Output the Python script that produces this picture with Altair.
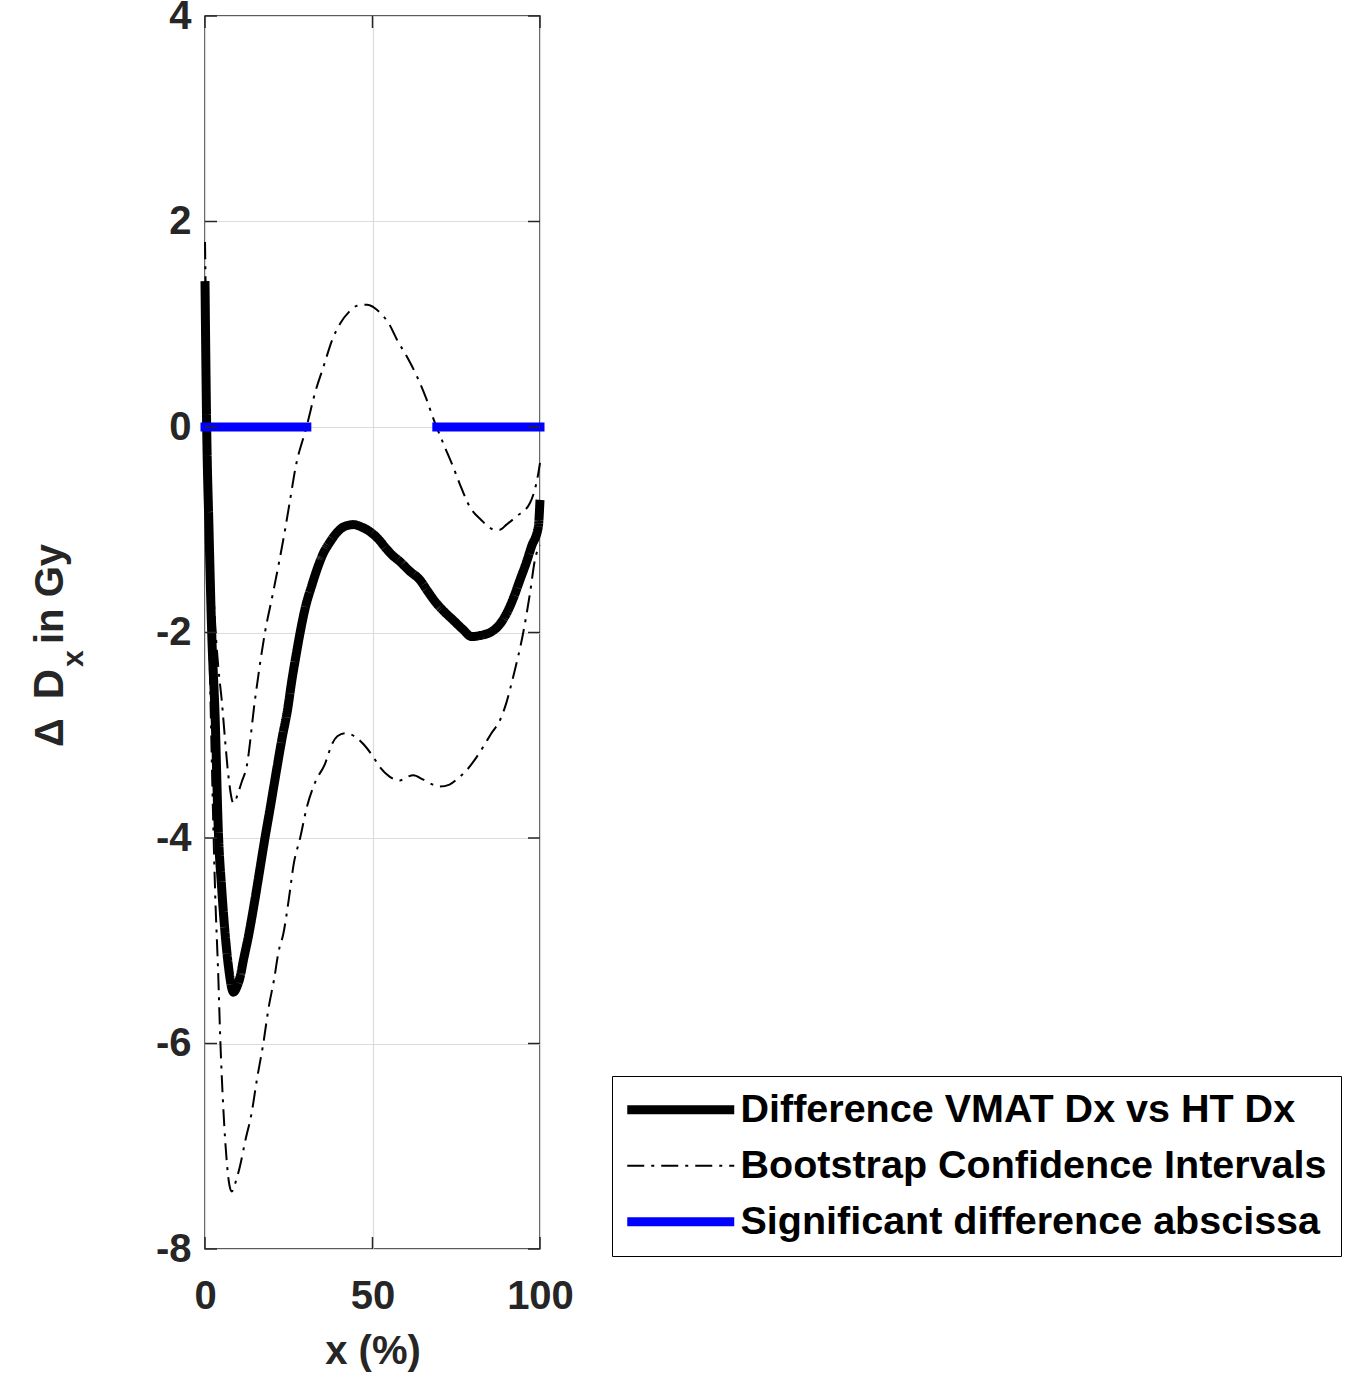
import altair as alt
import pandas as pd

# ---------------- data ----------------
NAMES = ["Difference VMAT Dx vs HT Dx", "Bootstrap Confidence Intervals",
         "Significant difference abscissa"]

main_x = [0, 0.5, 1.2, 2, 3, 4, 5, 6, 7, 8.5, 9.5, 10.5, 11.4, 13, 14.9, 16.4,
          17.9, 19.5, 21.4, 23, 24.6, 26, 27.3, 28.4, 30, 31.8, 33.5, 35.3, 37.3,
          39.3, 41.5, 44.3, 46.5, 49.7, 52, 54, 56, 58.2, 61, 64.2, 66.5, 69.2,
          71.5, 74.1, 77, 79.6, 82, 86.1, 88, 90.1, 92, 94, 95.8, 97.5, 99.5, 100]
main_y = [1.42, 0.0, -1.0, -2.0, -2.8, -3.95, -4.5, -4.93, -5.25, -5.5, -5.45,
          -5.35, -5.2, -4.95, -4.6, -4.3, -4.0, -3.7, -3.33, -3.03, -2.76, -2.45,
          -2.2, -2.0, -1.75, -1.55, -1.38, -1.23, -1.12, -1.03, -0.97, -0.95,
          -0.97, -1.03, -1.1, -1.18, -1.25, -1.31, -1.40, -1.49, -1.6, -1.72,
          -1.8, -1.88, -1.97, -2.04, -2.03, -1.98, -1.92, -1.81, -1.67, -1.49,
          -1.33, -1.16, -0.97, -0.71]

upper_x = [0, 1, 2, 3, 4, 5, 6, 7, 8.5, 10, 11, 12.4, 14.9, 17.9, 20.4, 23.9,
           25.4, 27, 30.3, 33, 35.4, 38, 40.4, 43, 45.4, 48.4, 52.3, 55, 57.3, 60,
           63.3, 66, 68.3, 71, 74.1, 76, 79.1, 82.3, 86.6, 88, 90, 93, 97, 99.5, 100]
upper_y = [1.8, -0.2, -1.2, -1.9, -2.35, -2.66, -3.05, -3.4, -3.66, -3.55, -3.45,
           -3.31, -2.66, -2.0, -1.6, -1.0, -0.71, -0.4, 0.0, 0.35, 0.59, 0.85,
           1.01, 1.12, 1.18, 1.19, 1.11, 1.0, 0.85, 0.7, 0.49, 0.28, 0.07, -0.15,
           -0.39, -0.55, -0.78, -0.9, -1.0, -1.0, -0.95, -0.87, -0.74, -0.45, -0.35]

lower_x = [0, 0.5, 1, 2, 3, 4, 4.5, 5.5, 6.5, 7.3, 8.0, 8.8, 10.4, 12, 13.9, 15.5,
           17.4, 19, 20.6, 22, 23.4, 25, 26.5, 28.4, 30.4, 33, 35.8, 38, 39.5, 41.8,
           43.4, 45.5, 47.4, 50, 52.2, 55, 58.2, 60, 62.2, 65, 68, 70.1, 73, 75.5,
           78.1, 80.5, 83.1, 85.5, 88.1, 90, 92, 95, 97, 98.5, 100]
lower_y = [1.3, -0.3, -1.5, -3.2, -4.5, -5.38, -5.9, -6.65, -7.15, -7.38, -7.44,
           -7.38, -7.2, -6.95, -6.68, -6.35, -6.0, -5.65, -5.38, -5.1, -4.93, -4.6,
           -4.25, -4.0, -3.7, -3.45, -3.28, -3.08, -3.01, -2.98, -2.99, -3.03,
           -3.09, -3.2, -3.31, -3.4, -3.44, -3.41, -3.39, -3.43, -3.48, -3.5,
           -3.48, -3.42, -3.34, -3.24, -3.11, -2.98, -2.85, -2.68, -2.43, -2.0,
           -1.62, -1.29, -1.15]

sig_segments = [(0, 30.4), (69.2, 100)]

x_ticks = [0, 50, 100]
y_ticks = [-8, -6, -4, -2, 0, 2, 4]

# ---------------- tables ----------------
def series_df(xs, ys, name, seg):
    return pd.DataFrame({"x": xs, "y": ys, "series": name, "seg": seg,
                         "i": list(range(len(xs)))})

df_main = series_df(main_x, main_y, NAMES[0], "main")
df_ci = pd.concat([series_df(upper_x, upper_y, NAMES[1], "upper"),
                   series_df(lower_x, lower_y, NAMES[1], "lower")])
sig_rows = []
for k, (a, b) in enumerate(sig_segments):
    sig_rows.append({"x": a, "y": 0, "series": NAMES[2], "seg": f"s{k}", "i": 0})
    sig_rows.append({"x": b, "y": 0, "series": NAMES[2], "seg": f"s{k}", "i": 1})
df_sig = pd.DataFrame(sig_rows)

W, H = 335, 1233
FONT = "Liberation Sans"
INK = "#262626"

xscale = alt.Scale(domain=[0, 100], nice=False, zero=False)
yscale = alt.Scale(domain=[-8, 4], nice=False, zero=False)

X = alt.X("x:Q", scale=xscale,
          axis=alt.Axis(values=x_ticks, title="x (%)", grid=True, labelPadding=27,
                        titlePadding=15, labelFlush=False,
                        labelExpr="'' + datum.value"))
Y = alt.Y("y:Q", scale=yscale,
          axis=alt.Axis(values=y_ticks, title=None, grid=True, labelPadding=14,
                        labelFlush=False, labelExpr="'' + datum.value"))

# long horizontal legend sample drawn as a custom path with a small nominal size
legend = alt.Legend(orient="none", legendX=407, legendY=1060, title=None,
                    strokeColor="black", fillColor="white", padding=14,
                    labelFontSize=39.5, labelFont=FONT, labelFontWeight="bold",
                    labelColor="black", symbolType="M-5.35,0H5.35", symbolSize=400,
                    symbolOffset=35, labelOffset=40, rowPadding=15, labelLimit=1000,
                    labelBaseline="middle")

color = alt.Color("series:N", scale=alt.Scale(domain=NAMES,
                  range=["black", "black", "#0000ff"]), legend=legend)
dash = alt.StrokeDash("series:N", scale=alt.Scale(domain=NAMES,
                      range=[[1, 0], [17, 7, 3, 7], [1, 0]]), legend=legend)
swidth = alt.StrokeWidth("series:N", scale=alt.Scale(type="ordinal", domain=NAMES,
                         range=[9, 2, 9]), legend=legend)


def line_layer(df, cap):
    return alt.Chart(df).mark_line(interpolate="monotone", strokeCap=cap,
                                   strokeJoin="round").encode(
        x=X, y=Y, color=color, strokeDash=dash, strokeWidth=swidth,
        detail="seg:N", order="i:Q")


main_layer = line_layer(df_main, "butt")
ci_layer = line_layer(df_ci, "butt")
sig_layer = line_layer(df_sig, "square")

# inward tick marks (box on all four sides)
ydf = pd.DataFrame({"v": y_ticks})
xdf = pd.DataFrame({"v": x_ticks})
TL = 12
tick_style = dict(color=INK, strokeWidth=1.5)
t_left = alt.Chart(ydf).mark_rule(**tick_style).encode(
    y=alt.Y("v:Q", scale=yscale), x=alt.value(0), x2=alt.value(TL))
t_right = alt.Chart(ydf).mark_rule(**tick_style).encode(
    y=alt.Y("v:Q", scale=yscale), x=alt.value(W - TL), x2=alt.value(W))
t_bot = alt.Chart(xdf).mark_rule(**tick_style).encode(
    x=alt.X("v:Q", scale=xscale), y=alt.value(H - TL), y2=alt.value(H))
t_top = alt.Chart(xdf).mark_rule(**tick_style).encode(
    x=alt.X("v:Q", scale=xscale), y=alt.value(0), y2=alt.value(TL))

# y-axis title with subscript: "Δ D" + subscript "x" + "in Gy"
title_style = dict(font=FONT, fontWeight="bold", color=INK, angle=270)
yt0 = alt.Chart(pd.DataFrame({"t": ["Δ"]})).mark_text(
    fontSize=40, align="left", baseline="alphabetic", **title_style).encode(
    text="t:N", x=alt.value(-142), y=alt.value(731))
yt1 = alt.Chart(pd.DataFrame({"t": ["D"]})).mark_text(
    fontSize=42, align="right", baseline="alphabetic", **title_style).encode(
    text="t:N", x=alt.value(-142), y=alt.value(653))
yt2 = alt.Chart(pd.DataFrame({"t": ["x"]})).mark_text(
    fontSize=30, align="left", baseline="alphabetic", **title_style).encode(
    text="t:N", x=alt.value(-122), y=alt.value(651))
yt3 = alt.Chart(pd.DataFrame({"t": ["in Gy"]})).mark_text(
    fontSize=40, align="left", baseline="alphabetic", **title_style).encode(
    text="t:N", x=alt.value(-142), y=alt.value(628))

chart = alt.layer(
    main_layer, ci_layer, sig_layer, t_left, t_right, t_bot, t_top,
    yt0, yt1, yt2, yt3
).properties(
    width=W, height=H, background="white",
    autosize=alt.AutoSizeParams(type="none"),
    padding={"left": 205, "top": 16, "right": 1346 - 205 - W, "bottom": 1376 - 16 - H},
).configure_view(
    stroke=INK, strokeWidth=1.5
).configure_axis(
    labelFont=FONT, labelFontSize=40, labelFontWeight="bold", labelColor=INK,
    titleFont=FONT, titleFontSize=40, titleFontWeight="bold", titleColor=INK,
    gridColor="#dcdcdc", gridWidth=1.2, domain=False, ticks=False,
    labelOverlap=False
)

chart.save("out.html", embed_options={"renderer": "svg", "actions": False})
